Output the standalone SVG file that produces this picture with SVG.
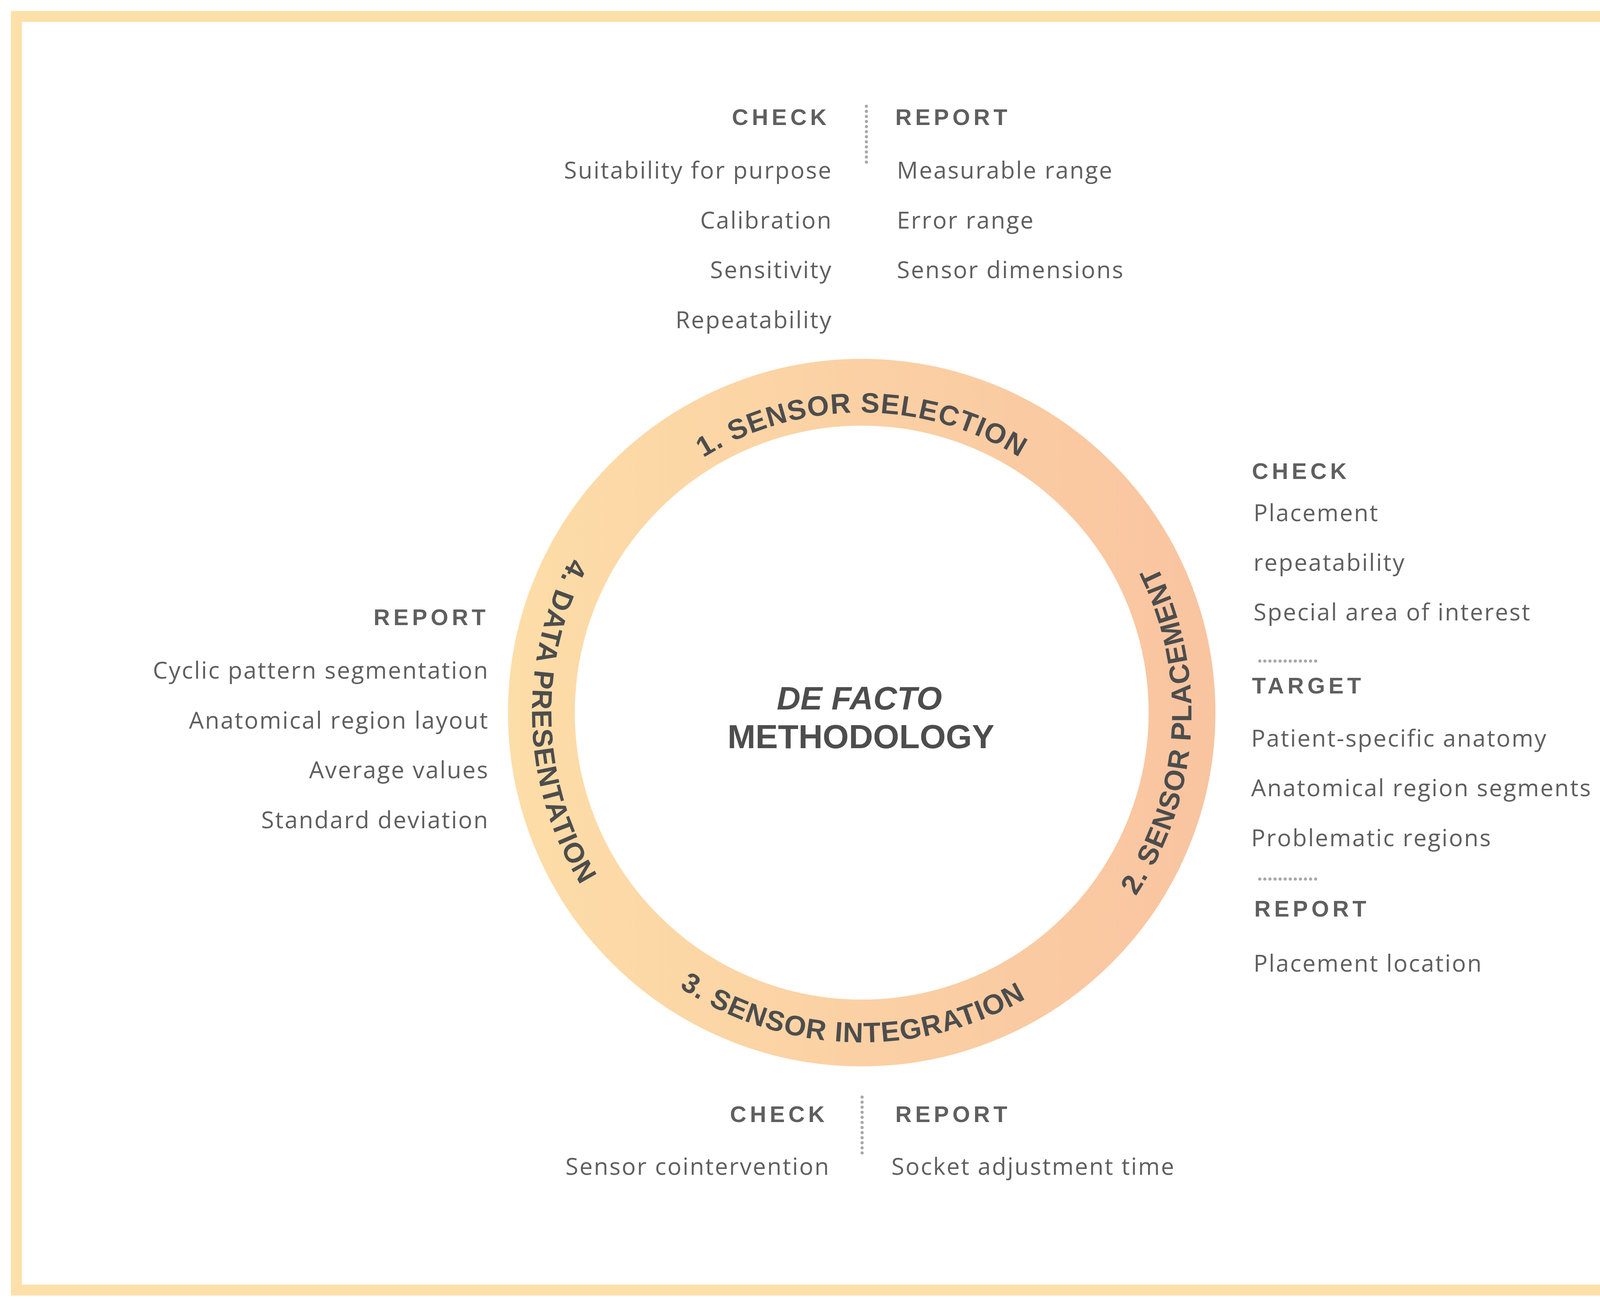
<svg xmlns="http://www.w3.org/2000/svg" width="4425" height="3330" viewBox="0 0 4425 3330">
<defs>
<linearGradient id="ring" gradientUnits="userSpaceOnUse" x1="1300" y1="0" x2="3112" y2="0">
<stop offset="0" stop-color="#FDDDA8"/><stop offset="1" stop-color="#F9C4A0"/>
</linearGradient>
<path id="cw" d="M2206,2592 A768,768 0 1 1 2206,1056 A768,768 0 1 1 2206,2592"/>
<path id="ccw" d="M2206,980 A844,844 0 1 0 2206,2668 A844,844 0 1 0 2206,980"/>
</defs>
<style>
.b{font-family:"Open Sans","Liberation Sans",sans-serif;font-size:60px;fill:#5f5f5f;letter-spacing:3px}
.h{font-family:"Liberation Sans",Arial,sans-serif;font-weight:bold;font-size:58px;fill:#5f5f5f;letter-spacing:9px}
.r{text-anchor:end}
.c{font-family:"Liberation Sans",Arial,sans-serif;font-weight:bold;font-size:72px;fill:#4d4d4d;letter-spacing:2px}
.dot{stroke:#a8a8a8;stroke-width:8;stroke-linecap:round;stroke-dasharray:0 13;fill:none}
</style>
<rect x="0" y="0" width="4425" height="3330" fill="#fff"/>
<rect x="42" y="42" width="4346" height="3260" fill="none" stroke="#FDDFA9" stroke-width="28"/>
<g id="ring-node">
<circle cx="2206" cy="1824" r="820" fill="none" stroke="url(#ring)" stroke-width="171"/>
<text class="c"><textPath href="#cw" startOffset="50%" text-anchor="middle">1. SENSOR SELECTION</textPath></text>
<text class="c"><textPath href="#ccw" startOffset="74%" text-anchor="middle">2. SENSOR PLACEMENT</textPath></text>
<text class="c"><textPath href="#ccw" startOffset="49.5%" text-anchor="middle">3. SENSOR INTEGRATION</textPath></text>
<text class="c"><textPath href="#ccw" startOffset="25.5%" text-anchor="middle">4. DATA PRESENTATION</textPath></text>
</g>
<g id="center">
<text x="2200" y="1816" text-anchor="middle" font-family="Liberation Sans,Arial,sans-serif" font-weight="bold" font-style="italic" font-size="84" fill="#4d4d4d">DE FACTO</text>
<text x="2204" y="1915" text-anchor="middle" font-family="Liberation Sans,Arial,sans-serif" font-weight="bold" font-size="86" fill="#4d4d4d">METHODOLOGY</text>
</g>
<g id="connectors">
<line class="dot" x1="2218" y1="272" x2="2218" y2="422"/>
<line class="dot" x1="2207" y1="2808" x2="2207" y2="2958"/>
<line class="dot" x1="3225" y1="1692" x2="3380" y2="1692"/>
<line class="dot" x1="3225" y1="2250" x2="3380" y2="2250"/>
</g>
<g id="sel-info">
<text class="h r" x="2125" y="320">CHECK</text>
<text class="h" x="2292" y="320">REPORT</text>
<text class="b r" x="2131" y="457">Suitability for purpose</text>
<text class="b r" x="2131" y="585">Calibration</text>
<text class="b r" x="2131" y="712">Sensitivity</text>
<text class="b r" x="2131" y="840">Repeatability</text>
<text class="b" x="2296" y="457">Measurable range</text>
<text class="b" x="2296" y="585">Error range</text>
<text class="b" x="2296" y="712">Sensor dimensions</text>
</g>
<g id="place-info">
<text class="h" x="3205" y="1226">CHECK</text>
<text class="b" x="3209" y="1334">Placement</text>
<text class="b" x="3209" y="1461">repeatability</text>
<text class="b" x="3209" y="1588">Special area of interest</text>
<text class="h" x="3205" y="1775">TARGET</text>
<text class="b" x="3203" y="1911">Patient-specific anatomy</text>
<text class="b" x="3203" y="2038">Anatomical region segments</text>
<text class="b" x="3203" y="2166">Problematic regions</text>
<text class="h" x="3211" y="2346">REPORT</text>
<text class="b" x="3209" y="2487">Placement location</text>
</g>
<g id="integ-info">
<text class="h r" x="2120" y="2872">CHECK</text>
<text class="h" x="2292" y="2872">REPORT</text>
<text class="b r" x="2125" y="3007">Sensor cointervention</text>
<text class="b" x="2282" y="3007">Socket adjustment time</text>
</g>
<g id="data-info">
<text class="h r" x="1252" y="1600">REPORT</text>
<text class="b r" x="1252" y="1737">Cyclic pattern segmentation</text>
<text class="b r" x="1252" y="1865">Anatomical region layout</text>
<text class="b r" x="1252" y="1992">Average values</text>
<text class="b r" x="1252" y="2120">Standard deviation</text>
</g>
</svg>
